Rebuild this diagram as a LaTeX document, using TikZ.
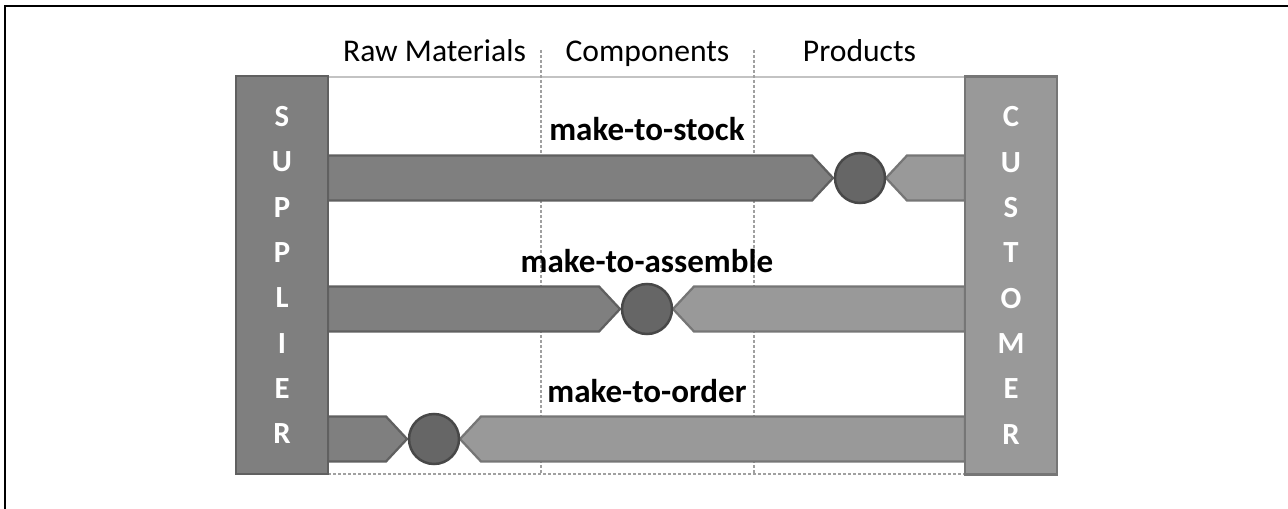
\documentclass[tikz,border=0pt]{standalone}
\usepackage{fontspec}
\setmainfont{Carlito}
\usetikzlibrary{
    positioning,
    calc
  }
\definecolor{supplycolor}{RGB}{127,127,127}
\definecolor{supplyedge}{RGB}{96,96,96}
\definecolor{demandcolor}{RGB}{153,153,153}
\definecolor{demandedge}{RGB}{118,118,118}
\definecolor{pointcolor}{RGB}{102,102,102}
\definecolor{pointedge}{RGB}{72,72,72}
\definecolor{gridcolor}{RGB}{160,160,160}
\definecolor{toplinecolor}{RGB}{195,195,195}
\tikzset{
  partner/.style={draw, line width=0.5mm, minimum width=18.4mm, minimum height=79.6mm,
    inner sep=0pt, text=white, align=center,
    font=\fontsize{17.5}{25.8}\selectfont\bfseries},
  header/.style={anchor=base, font=\fontsize{18}{21}\selectfont},
  strategy/.style={anchor=base, font=\fontsize{18.8}{22}\selectfont\bfseries},
  grid/.style={draw=gridcolor, line width=0.25mm, dash pattern=on 0.6mm off 0.4mm}
}
\tikzset{
  pics/flowrow/.style args={#1/#2/#3}{
    code={
      % push side, from the supplier to the decoupling point
      \path[draw=supplyedge,fill=supplycolor,line width=0.45mm]
        (328,-22.5) coordinate (push_topleft_#1)
          -- (#2-48,-22.5)
          -- (#2-27,0) coordinate (push_tip_#1)
          -- (#2-48,22.5)
          -- (328,22.5) coordinate (push_bottomleft_#1)
          -- cycle
      ;
      % pull side, from the customer back to the decoupling point
      \path[draw=demandedge,fill=demandcolor,line width=0.45mm]
        (965,-22.5) coordinate (pull_topright_#1)
          -- (#2+47,-22.5)
          -- (#2+26,0) coordinate (pull_tip_#1)
          -- (#2+47,22.5)
          -- (965,22.5) coordinate (pull_bottomright_#1)
          -- cycle
      ;
      \path[]
        (#2,0) node[circle,draw=pointedge,fill=pointcolor,line width=0.5mm,
          minimum size=10mm,inner sep=0pt] (point_#1) {}
      ;
      \path[]
        (647,-37) node[strategy] (label_#1) {#3}
      ;
    }
  }
}
\begin{document}
\begin{tikzpicture}[x=0.2mm, y=-0.2mm]
\useasboundingbox (0,0) rectangle (1288,509);

% frame
\path[draw,line width=0.5mm] (5,509) -- (5,6) -- (1288,6);

% columns
\path[draw=toplinecolor,line width=0.45mm] (328,77) coordinate (top_left) -- (965,77) coordinate (top_right);
\path[grid] (328,474) coordinate (bottom_left) -- (965,474) coordinate (bottom_right);
\path[grid] (541,50) coordinate (split_a) -- (541,474);
\path[grid] (754,50) coordinate (split_b) -- (754,474);

\path[]
  (434.5,62) node[header] (raw) {Raw Materials}
;
\path[]
  (647.5,62) node[header] (components) {Components}
;
\path[]
  (859.5,62) node[header] (products) {Products}
;

% the three strategies
\path (0,178) pic {flowrow={mts/860/make-to-stock}};
\path (0,309) pic {flowrow={mta/647/make-to-assemble}};
\path (0,439) pic {flowrow={mto/434/make-to-order}};

% supplier and customer
\path[]
  (282,275) node[partner,fill=supplycolor,draw=supplyedge] (supplier) {S\\U\\P\\P\\L\\I\\E\\R}
;
\path[]
  (1011,275.5) node[partner,fill=demandcolor,draw=demandedge] (customer) {C\\U\\S\\T\\O\\M\\E\\R}
;

\end{tikzpicture}
\end{document}
